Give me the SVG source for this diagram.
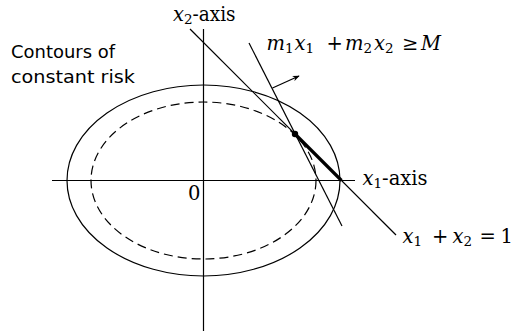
<svg xmlns="http://www.w3.org/2000/svg" width="512" height="333" viewBox="0 0 512 333">
<style>
.ln{stroke:#000;stroke-width:1.2;fill:none}
.sans{font-family:"DejaVu Sans",sans-serif;font-size:18.5px;fill:#000}
.ser{font-family:"DejaVu Serif",serif;font-size:19.5px;fill:#000}
.it{font-style:italic}
.sub{font-size:13.5px}
</style>
<defs>
<marker id="ah" viewBox="0 0 10 10" refX="9" refY="5" markerWidth="7" markerHeight="7" orient="auto" markerUnits="userSpaceOnUse">
<path d="M0,1 L10,5 L0,9 L3,5 Z" fill="#000"/>
</marker>
</defs>
<rect width="512" height="333" fill="#fff"/>
<g id="axes">
<line class="ln" x1="203.5" y1="29" x2="203.5" y2="331"/>
<line class="ln" x1="52" y1="180.5" x2="355" y2="180.5"/>
</g>
<g id="contours">
<ellipse class="ln" cx="203.5" cy="180.5" rx="136.5" ry="95.5"/>
<ellipse class="ln" cx="203.5" cy="180.5" rx="112.5" ry="78.5" stroke-dasharray="9,5"/>
</g>
<g id="connectors">
<line class="ln" x1="190" y1="29" x2="396" y2="235"/>
<line class="ln" x1="249" y1="43" x2="342" y2="226"/>
<line class="ln" x1="272.5" y1="88" x2="299" y2="76" marker-end="url(#ah)"/>
<line x1="295" y1="134" x2="341.5" y2="180.5" stroke="#000" stroke-width="3.2"/>
<circle cx="295" cy="134" r="3.2" fill="#000"/>
</g>
<g id="labels">
<text class="sans" x="11" y="58" textLength="104" lengthAdjust="spacingAndGlyphs">Contours of</text>
<text class="sans" x="11" y="83" textLength="124" lengthAdjust="spacingAndGlyphs">constant risk</text>
<text class="ser" x="188" y="199.5">0</text>
<text class="ser" y="21"><tspan class="it" x="173">x</tspan><tspan class="sub" dy="3">2</tspan><tspan dy="-3" textLength="43" lengthAdjust="spacingAndGlyphs">-axis</tspan></text>
<text class="ser" y="185"><tspan class="it" x="362.5">x</tspan><tspan class="sub" dy="3">1</tspan><tspan dy="-3">-axis</tspan></text>
<text class="ser" y="50"><tspan class="it" x="266.5">m</tspan><tspan class="sub" dy="3">1</tspan><tspan class="it" x="294.5" dy="-3">x</tspan><tspan class="sub" dy="3">1</tspan><tspan x="326.5" dy="-3">+</tspan><tspan class="it" x="345">m</tspan><tspan class="sub" dy="3">2</tspan><tspan class="it" x="374" dy="-3">x</tspan><tspan class="sub" dy="3">2</tspan><tspan x="402" dy="-3">≥</tspan><tspan class="it" x="421">M</tspan></text>
<text class="ser" y="243"><tspan class="it" x="402.5">x</tspan><tspan class="sub" dy="3">1</tspan><tspan x="432" dy="-3">+</tspan><tspan class="it" x="452.5">x</tspan><tspan class="sub" dy="3">2</tspan><tspan x="479.5" dy="-3">=</tspan><tspan x="500.5">1</tspan></text>
</g>
</svg>
